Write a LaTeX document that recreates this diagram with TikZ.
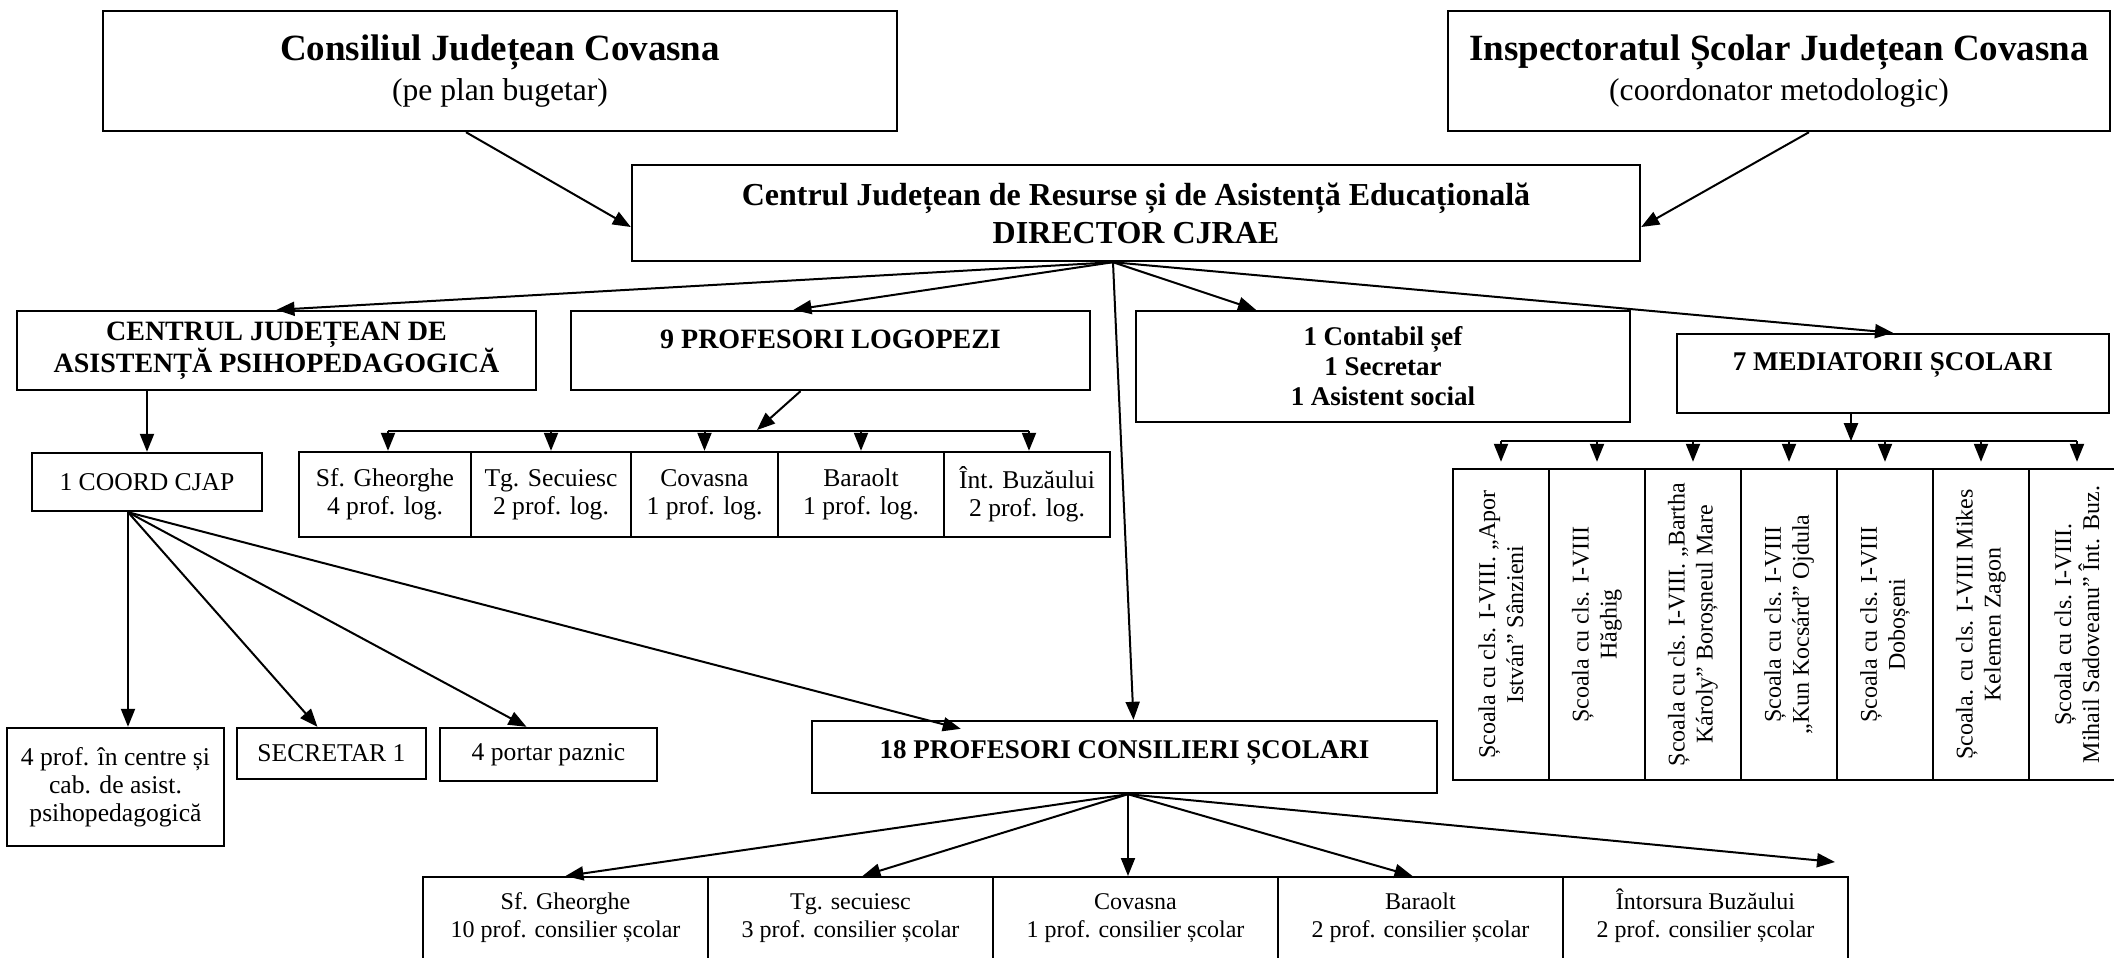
\documentclass[tikz,border=0pt]{standalone}
\usepackage{fontspec}
\setmainfont{Liberation Serif}
\usetikzlibrary{positioning, calc, arrows.meta}

\tikzset{
  box/.style={draw, line width=0.6pt, inner sep=0pt, align=center},
  conn/.style={line width=0.5pt, -{Triangle[length=4.5pt,width=3.5pt]}},
  bar/.style={line width=0.5pt},
  big/.style={font=\fontsize{9.25pt}{10pt}\selectfont\bfseries},
  head/.style={font=\fontsize{7pt}{8pt}\selectfont\bfseries},
  hsm/.style={font=\fontsize{6.75pt}{7.5pt}\selectfont\bfseries},
  txt/.style={font=\fontsize{6.4pt}{7pt}\selectfont},
  sml/.style={font=\fontsize{6pt}{7pt}\selectfont},
  cell/.style={box, sml, anchor=north, minimum width=71.25pt, text height=8pt, text depth=30pt},
  school/.style={box, sml, rotate=90, minimum width=77.75pt, minimum height=24pt}
}
\newcommand{\subtl}[1]{{\fontsize{7.9pt}{10pt}\selectfont\mdseries #1}}
\newcommand{\twol}[2]{\begin{tabular}[t]{@{}c@{}}#1\\#2\end{tabular}}

\begin{document}
\begin{tikzpicture}[x=0.25pt, y=-0.25pt]
\useasboundingbox (0,0) rectangle (2114,957);

% top
\node[box, big, minimum width=198.5pt, minimum height=30pt] (cjc) at (500,71)
  {Consiliul Județean Covasna\\\subtl{(pe plan bugetar)}};
\node[box, big, minimum width=165.5pt, minimum height=30pt] (isj) at (1779,71)
  {Inspectoratul Școlar Județean Covasna\\\subtl{(coordonator metodologic)}};
\node[box, font=\fontsize{8pt}{9.5pt}\selectfont\bfseries, minimum width=252pt, minimum height=24pt] (dir) at (1136,213)
  {Centrul Județean de Resurse și de Asistență Educațională\\DIRECTOR CJRAE};

% second row
\node[box, head, minimum width=129.75pt, minimum height=19.75pt] (cjap) at (276.5,350.5)
  {CENTRUL JUDEȚEAN DE\\ASISTENȚĂ PSIHOPEDAGOGICĂ};
\node[box, head, minimum width=129.75pt, minimum height=19.75pt, text height=5pt, text depth=6.25pt] (logo) at (830.5,350.5)
  {9 PROFESORI LOGOPEZI};
\node[box, hsm, minimum width=123.5pt, minimum height=27.75pt] (cont) at (1383,366.5)
  {1 Contabil șef\\1 Secretar\\1 Asistent social};
\node[box, hsm, minimum width=108pt, minimum height=19.75pt, text height=5pt, text depth=6.75pt] (medi) at (1893,373.5)
  {7 MEDIATORII ȘCOLARI};

% cjap branch
\node[box, txt, minimum width=57.5pt, minimum height=14.5pt] (coord) at (147,482) {1 COORD CJAP};
\node[box, txt, minimum width=54.25pt, minimum height=29.5pt] (fourp) at (115.5,787)
  {4 prof. în centre și\\cab. de asist.\\psihopedagogică};
\node[box, txt, minimum width=47.25pt, minimum height=12.75pt] (sec) at (331.5,753.5) {SECRETAR 1};
\node[box, txt, minimum width=54.25pt, minimum height=13.25pt] (port) at (548.5,754.5) {4 portar paznic};

% logopezi
\node[box, txt, minimum width=43pt, minimum height=21.25pt] (sfg) at (385,494.5) {Sf. Gheorghe\\4 prof. log.};
\node[box, txt, minimum width=40pt, minimum height=21.25pt] (tgs) at (551,494.5) {Tg. Secuiesc\\2 prof. log.};
\node[box, txt, minimum width=36.75pt, minimum height=21.25pt] (covl) at (704.5,494.5) {Covasna\\1 prof. log.};
\node[box, txt, minimum width=41.5pt, minimum height=21.25pt] (barl) at (861,494.5) {Baraolt\\1 prof. log.};
\node[box, txt, minimum width=41.5pt, minimum height=21.25pt] (intl) at (1027,494.5) {Înt. Buzăului\\2 prof. log.};

% consilieri
\node[box, hsm, minimum width=156.25pt, minimum height=18pt, text height=5pt, text depth=4.5pt] (c18) at (1124.5,757)
  {18 PROFESORI CONSILIERI ȘCOLARI};
\node[cell] (sfb) at (565.5,876) {\twol{Sf. Gheorghe}{10 prof. consilier școlar}};
\node[cell] (tgb) at (850.5,876) {\twol{Tg. secuiesc}{3 prof. consilier școlar}};
\node[cell] (covb) at (1135.5,876) {\twol{Covasna}{1 prof. consilier școlar}};
\node[cell] (barb) at (1420.5,876) {\twol{Baraolt}{2 prof. consilier școlar}};
\node[cell] (intb) at (1705.5,876) {\twol{Întorsura Buzăului}{2 prof. consilier școlar}};

% mediatori
\node[school] (sch1) at (1501,624.5) {Școala cu cls. I-VIII. „Apor\\István” Sânzieni};
\node[school] (sch2) at (1597,624.5) {Școala cu cls. I-VIII\\Hăghig};
\node[school] (sch3) at (1693,624.5) {Școala cu cls. I-VIII. „Bartha\\Károly” Boroșneul Mare};
\node[school] (sch4) at (1789,624.5) {Școala cu cls. I-VIII\\„Kun Kocsárd” Ojdula};
\node[school] (sch5) at (1885,624.5) {Școala cu cls. I-VIII\\Doboșeni};
\node[school] (sch6) at (1981,624.5) {Școala. cu cls. I-VIII Mikes\\Kelemen Zagon};
\node[school] (sch7) at (2077,624.5) {Școala cu cls. I-VIII.\\Mihail Sadoveanu” Înt. Buz.};

% arrows from the top
\draw[conn] ($(cjc.south)+(-34,0)$) -- ($(dir.west)+(0,14)$);
\draw[conn] ($(isj.south)+(30,0)$) -- ($(dir.east)+(0,14)$);
\coordinate (dfan) at ($(dir.south)+(-23,0)$);
\draw[conn] (dfan) -- (cjap.north);
\draw[conn] (dfan) -- ($(logo.north)+(-37,0)$);
\draw[conn] (dfan) -- ($(cont.north)+(-127,0)$);
\draw[conn] (dfan) -- (medi.north);
\draw[conn] (dfan) -- ($(c18.north)+(9,0)$);

% cjap
\draw[conn] (coord.north |- cjap.south) -- (coord.north);
\coordinate (cfan) at ($(coord.south)+(-19,0)$);
\draw[conn] (cfan) -- (cfan |- fourp.north);
\draw[conn] (cfan) -- ($(sec.north)+(-14,0)$);
\draw[conn] (cfan) -- ($(port.north)+(-22,0)$);
\draw[conn] (cfan) -- ($(c18.north west)+(150,9)$);

% logopezi bracket
\coordinate (lb1) at (388,431);
\coordinate (lb5) at (1029,431);
\coordinate (lbm) at (757,430);
\draw[bar] (lb1) -- (lb5);
\draw[conn] ($(logo.south)+(-30,0)$) -- (lbm);
\draw[conn] (lb1) -- (lb1 |- sfg.north);
\draw[conn] (lb1 -| tgs.north) -- (tgs.north);
\draw[conn] (lb1 -| covl.north) -- (covl.north);
\draw[conn] (lb1 -| barl.north) -- (barl.north);
\draw[conn] (lb5) -- (lb5 |- intl.north);

% consilieri
\coordinate (kfan) at ($(c18.south)+(3.5,0)$);
\coordinate (kend) at (1835,862);
\draw[conn] (kfan) -- (sfb.north);
\draw[conn] (kfan) -- ($(tgb.north)+(12,0)$);
\draw[conn] (kfan) -- (kfan |- covb.north);
\draw[conn] (kfan) -- ($(barb.north)+(-8,0)$);
\draw[conn] (kfan) -- (kend);

% mediatori bracket
\coordinate (mfan) at ($(medi.south)+(-42,0)$);
\coordinate (mbar) at ($(mfan)+(0,27)$);
\draw[conn] (mfan) -- (mbar);
\draw[bar] (mbar -| sch1.east) -- (mbar -| sch7.east);
\draw[conn, shorten >=1.5pt] (mbar -| sch1.east) -- (sch1.east);
\draw[conn, shorten >=1.5pt] (mbar -| sch2.east) -- (sch2.east);
\draw[conn, shorten >=1.5pt] (mbar -| sch3.east) -- (sch3.east);
\draw[conn, shorten >=1.5pt] (mbar -| sch4.east) -- (sch4.east);
\draw[conn, shorten >=1.5pt] (mbar -| sch5.east) -- (sch5.east);
\draw[conn, shorten >=1.5pt] (mbar -| sch6.east) -- (sch6.east);
\draw[conn, shorten >=1.5pt] (mbar -| sch7.east) -- (sch7.east);
\end{tikzpicture}
\end{document}
